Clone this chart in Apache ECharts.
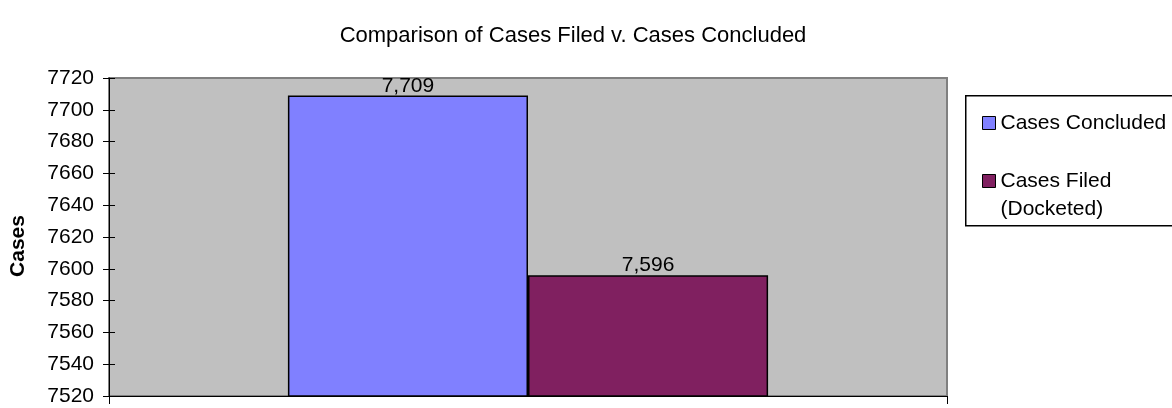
<!DOCTYPE html>
<html>
<head>
<meta charset="utf-8">
<script src="https://cdn.jsdelivr.net/npm/echarts@6/dist/echarts.min.js"></script>
<style>html,body{margin:0;padding:0;background:#fff}#c{width:1172px;height:408px}</style>
</head>
<body>
<div id="c"></div>
<script>
const titleText = 'Comparison of Cases Filed v. Cases Concluded';
const categories = [''];
const seriesNames = ['Cases Concluded', 'Cases Filed (Docketed)'];
const casesConcluded = [7709];
const casesFiled = [7596];
const yMin = 7520, yMax = 7720, yStep = 20;
const yAxisName = 'Cases';

const FONT = 'Liberation Sans';
const chart = echarts.init(document.getElementById('c'));
const fmt = p => Number(p.value).toLocaleString('en-US');
chart.setOption({
  animation: false,
  textStyle: { fontFamily: FONT },
  title: {
    text: titleText, left: 568, top: 20, textAlign: 'center',
    textStyle: { fontFamily: FONT, fontSize: 22, fontWeight: 'normal', color: '#000' }
  },
  grid: {
    left: 109, right: 225, top: 78, bottom: 12,
    show: true, backgroundColor: '#C0C0C0', borderColor: '#808080', borderWidth: 2
  },
  legend: [
    {
      data: [seriesNames[0]], left: 977, top: 104, orient: 'vertical',
      icon: 'rect', itemWidth: 13, itemHeight: 13,
      itemStyle: { borderColor: '#000', borderWidth: 1 },
      textStyle: { fontFamily: FONT, fontSize: 21, lineHeight: 28, color: '#000' }
    },
    {
      data: [seriesNames[1]], left: 977, top: 134, orient: 'vertical',
      icon: 'rect', itemWidth: 13, itemHeight: 13,
      itemStyle: { borderColor: '#000', borderWidth: 1 },
      formatter: () => ' \nCases Filed\n(Docketed)',
      textStyle: { fontFamily: FONT, fontSize: 21, lineHeight: 28, color: '#000' }
    }
  ],
  graphic: [{
    type: 'rect', left: 965, top: 95, z: -1,
    shape: { width: 240, height: 130 },
    style: { fill: '#fff', stroke: '#000', lineWidth: 1.5 }
  }],
  xAxis: {
    type: 'category', data: categories,
    axisLine: { lineStyle: { color: '#000', width: 1 } },
    axisTick: { show: true, length: 8, lineStyle: { color: '#000' } },
    axisLabel: { show: false },
    splitLine: { show: false }
  },
  yAxis: [
    {
      type: 'value', min: yMin, max: yMax, interval: yStep, position: 'left',
      name: yAxisName, nameLocation: 'middle', nameGap: 80, nameRotate: 90,
      nameTextStyle: { fontFamily: FONT, fontSize: 21, fontWeight: 'bold', color: '#000', padding: [0, 18, 0, 0] },
      axisLine: { show: true, lineStyle: { color: '#000', width: 1 } },
      axisTick: { show: true, length: 6, lineStyle: { color: '#000' } },
      axisLabel: { fontFamily: FONT, fontSize: 21, color: '#000', margin: 15, formatter: v => String(v) },
      splitLine: { show: false }
    },
    {
      type: 'value', min: yMin, max: yMax, interval: yStep, position: 'left',
      axisLine: { show: false },
      axisTick: { show: true, inside: true, length: 6, lineStyle: { color: '#000' } },
      axisLabel: { show: false },
      splitLine: { show: false }
    }
  ],
  series: [
    {
      name: seriesNames[0], type: 'bar', data: casesConcluded,
      barGap: '0%', barCategoryGap: '42.7%',
      itemStyle: { color: '#8080FF', borderColor: '#000', borderWidth: 1.5 },
      label: { show: true, position: 'top', distance: -1, formatter: fmt,
        fontFamily: FONT, fontSize: 21, color: '#000' }
    },
    {
      name: seriesNames[1], type: 'bar', data: casesFiled,
      itemStyle: { color: '#802060', borderColor: '#000', borderWidth: 1.5 },
      label: { show: true, position: 'top', distance: -1, formatter: fmt,
        fontFamily: FONT, fontSize: 21, color: '#000' }
    }
  ]
});
</script>
</body>
</html>
